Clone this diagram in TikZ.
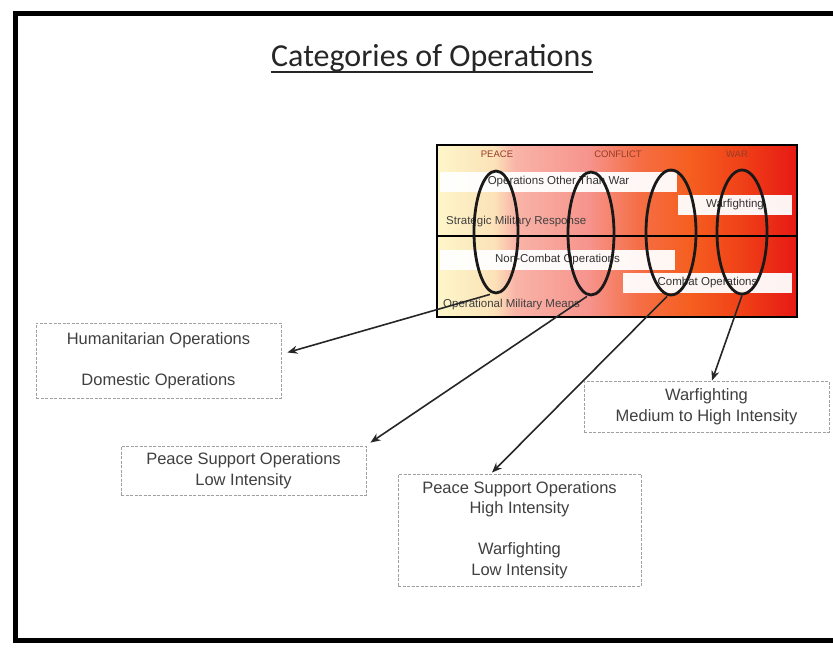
\documentclass[tikz,border=0pt]{standalone}
\usepackage{fontspec}
\setmainfont{Liberation Sans}
\newfontfamily\titlefont{Carlito}
\usetikzlibrary{shapes.geometric,arrows.meta}

% colours of the peace-to-war band
\definecolor{bandA}{RGB}{253,246,202}
\definecolor{bandB}{RGB}{252,226,184}
\definecolor{bandC}{RGB}{249,180,168}
\definecolor{bandD}{RGB}{246,148,140}
\definecolor{bandE}{RGB}{245,110,70}
\definecolor{bandF}{RGB}{245,95,32}
\definecolor{bandG}{RGB}{240,66,24}
\definecolor{bandH}{RGB}{230,25,20}
\definecolor{labelred}{RGB}{150,60,40}
\definecolor{boxline}{RGB}{160,160,160}

% the band runs from 25bp to 75bp of the shading
\pgfdeclarehorizontalshading{warband}{100bp}{%
  color(0bp)=(bandA); color(25bp)=(bandA); color(33bp)=(bandB);
  color(35.8bp)=(bandC); color(46bp)=(bandD); color(53bp)=(bandE);
  color(60bp)=(bandF); color(67bp)=(bandG); color(75bp)=(bandH);
  color(100bp)=(bandH)}

\begin{document}
\begin{tikzpicture}[x=1pt,y=-1pt,
  bar/.style={fill=white, fill opacity=0.95, text opacity=1, inner sep=0pt,
    font=\fontsize{11.5}{13}\selectfont, text=black!80},
  bandtext/.style={inner sep=0pt, font=\fontsize{11.5}{13}\selectfont, text=black!75},
  bandlabel/.style={inner sep=0pt, font=\fontsize{9.5}{11}\selectfont, text=labelred},
  ring/.style={ellipse, draw=black!90, line width=2.8pt, inner sep=0pt},
  callout/.style={draw=boxline, dash pattern=on 3pt off 1.5pt, line width=0.9pt,
    fill=white, align=center, inner sep=0pt, text=black!75,
    font=\fontsize{16.5}{20.5}\selectfont},
  pointer/.style={line width=1.6pt, draw=black!85,
    -{Stealth[length=10pt,width=8pt]}}]

\useasboundingbox (0,0) rectangle (833,650);
\fill[white] (0,0) rectangle (833,650);

% outer frame, open to the right
\draw[line width=5pt] (833,14) -- (15,14) -- (15,640) -- (833,640);

% title
\node[inner sep=0pt, anchor=base, text=black!85,
  font=\titlefont\fontsize{32}{38}\selectfont] (title) at (432,67)
  {Categories of Operations};
\draw[line width=1.3pt, black!85] ([yshift=-5pt]title.base west) -- ([yshift=-5pt]title.base east);

% peace-to-war band
\node[draw, line width=2pt, shade, shading=warband, minimum width=360pt,
  minimum height=172pt, inner sep=0pt] (band) at (617,231) {};
\draw[line width=1.4pt] (band.west |- 0,236) -- (band.east |- 0,236);

\node[bandlabel] (peace) at (497,154) {PEACE};
\node[bandlabel] (conflict) at (618,154) {CONFLICT};
\node[bandlabel] (war) at (737,154) {WAR};

\node[bar, minimum width=237pt, minimum height=20pt] (ootw) at (558.5,182) {Operations Other Than War};
\node[bar, minimum width=114pt, minimum height=20pt] (wf) at (735,205) {Warfighting};
\node[bandtext, anchor=west] (smr) at (446,222) {Strategic Military Response};
\node[bar, minimum width=235pt, minimum height=20pt] (nco) at (557.5,260) {Non-Combat Operations};
\node[bar, minimum width=169pt, minimum height=20pt] (co) at (707.5,283) {Combat Operations};
\node[bandtext, anchor=west] (omm) at (443,305) {Operational Military Means};

% the four groupings
\node[ring, minimum width=44pt, minimum height=122pt] (e1) at (496,232) {};
\node[ring, minimum width=46pt, minimum height=123pt] (e2) at (591,233.5) {};
\node[ring, minimum width=50pt, minimum height=125pt] (e3) at (671,232.5) {};
\node[ring, minimum width=50pt, minimum height=124pt] (e4) at (742,232) {};

% descriptions
\node[callout, minimum width=245pt, minimum height=75pt] (b1) at (158.5,360.5)
  {Humanitarian Operations\\[21pt]Domestic Operations};
\node[callout, minimum width=245pt, minimum height=49pt] (b2) at (243.5,470.5)
  {Peace Support Operations\\Low Intensity};
\node[callout, minimum width=243pt, minimum height=112pt] (b3) at (519.5,530)
  {Peace Support Operations\\High Intensity\\[20.5pt]Warfighting\\Low Intensity};
\node[callout, minimum width=245pt, minimum height=51pt] (b4) at (706.5,406.5)
  {Warfighting\\Medium to High Intensity};

% connectors
\draw[pointer] ([xshift=-6pt]e1.south) -- ([shift={(6,-8)}]b1.east);
\draw[pointer] ([xshift=-4pt]e2.south) -- ([shift={(4,-3)}]b2.north east);
\draw[pointer] ([xshift=-4pt]e3.south) -- ([shift={(-27.5,-1)}]b3.north);
\draw[pointer] (e4.south) -- ([xshift=5.5pt]b4.north);

\end{tikzpicture}
\end{document}
